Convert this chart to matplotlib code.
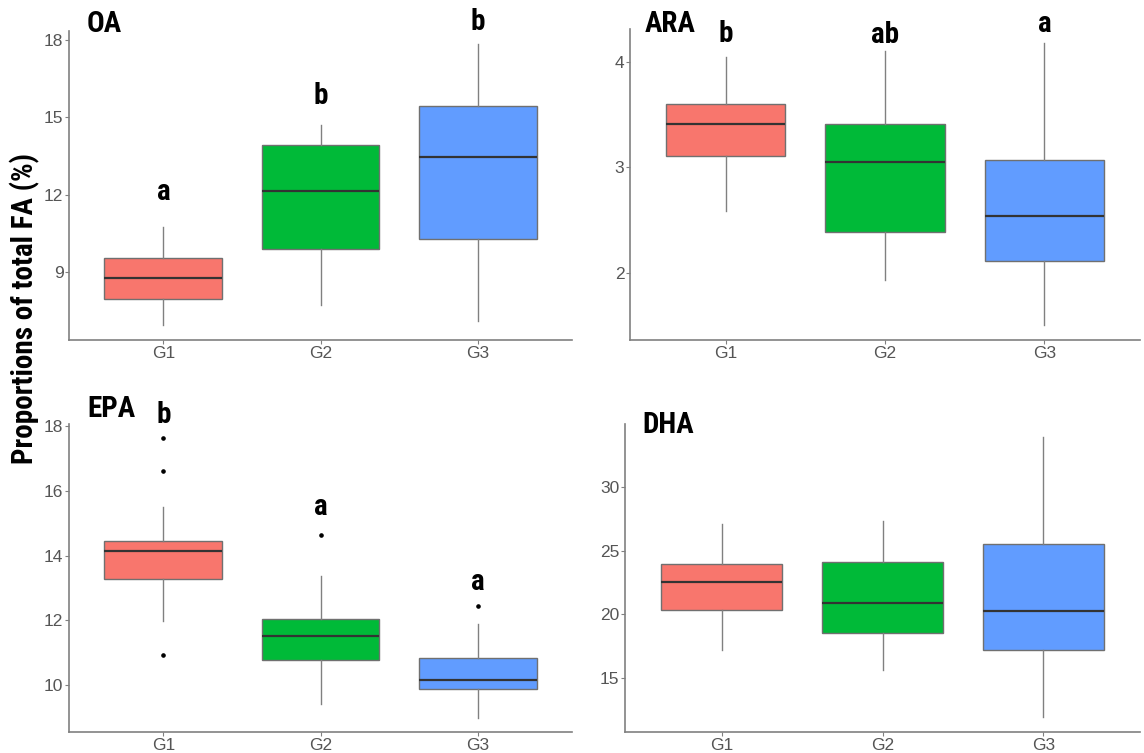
import numpy as np
import matplotlib.pyplot as plt

# box plots of fatty acid proportions, 4 panels
groups = ['G1', 'G2', 'G3']
colors = ['#F8766D', '#00BA38', '#619CFF']

# OA
oa_low = [6.91, 7.71, 7.09]
oa_q1 = [7.92, 9.90, 10.26]
oa_med = [8.74, 12.14, 13.48]
oa_q3 = [9.54, 13.91, 15.46]
oa_high = [10.75, 14.72, 17.84]
oa_out = [[], [], []]
oa_letters = ['a', 'b', 'b']
oa_letter_y = [12.1, 15.84, 18.7]

# ARA
ara_low = [2.58, 1.93, 1.50]
ara_q1 = [3.11, 2.38, 2.11]
ara_med = [3.41, 3.05, 2.54]
ara_q3 = [3.60, 3.41, 3.07]
ara_high = [4.04, 4.10, 4.18]
ara_out = [[], [], []]
ara_letters = ['b', 'ab', 'a']
ara_letter_y = [4.26, 4.25, 4.36]

# EPA
epa_low = [11.99, 9.42, 8.99]
epa_q1 = [13.28, 10.77, 9.88]
epa_med = [14.16, 11.52, 10.17]
epa_q3 = [14.44, 12.04, 10.84]
epa_high = [15.50, 13.37, 11.88]
epa_out = [[17.64, 16.62, 10.93], [14.64], [12.44]]
epa_letters = ['b', 'a', 'a']
epa_letter_y = [18.36, 15.52, 13.2]

# DHA
dha_low = [17.19, 15.60, 11.9]
dha_q1 = [20.31, 18.49, 17.14]
dha_med = [22.53, 20.86, 20.23]
dha_q3 = [23.98, 24.11, 25.52]
dha_high = [27.08, 27.34, 33.9]
dha_out = [[], [], []]
dha_letters = ['', '', '']
dha_letter_y = [0, 0, 0]

plt.rcParams['font.family'] = ['Liberation Sans', 'DejaVu Sans']
W, H = 1144, 753
fig = plt.figure(figsize=(W/100, H/100), dpi=100)
bold = ['Roboto Condensed', 'Roboto', 'DejaVu Sans']

def make_panel(box, title, title_xy, low, q1, med, q3, high, out, letters, letter_y, ylim, yticks):
	left, top, right, bottom = box
	ax = fig.add_axes([left/W, 1-bottom/H, (right-left)/W, (bottom-top)/H])
	stats = []
	for i in range(3):
		stats.append({'whislo': low[i], 'q1': q1[i], 'med': med[i], 'q3': q3[i],
					  'whishi': high[i], 'fliers': out[i]})
	bp = ax.bxp(stats, positions=[1, 2, 3], widths=0.75, showcaps=False, patch_artist=True,
				boxprops=dict(edgecolor='#707070', linewidth=1),
				medianprops=dict(color='#333333', linewidth=1.6),
				whiskerprops=dict(color='#808080', linewidth=1),
				flierprops=dict(marker='o', markersize=2.3, markerfacecolor='black',
								markeredgecolor='black'))
	for patch, c in zip(bp['boxes'], colors):
		patch.set_facecolor(c)
	for i in range(3):
		if letters[i]:
			ax.text(i+1, letter_y[i], letters[i], ha='center', va='center', fontsize=21,
					fontweight='bold', family=bold, clip_on=False)
	ax.set_xlim(0.4, 3.6)
	ax.set_ylim(ylim)
	ax.set_yticks(yticks)
	ax.set_xticks([1, 2, 3])
	ax.set_xticklabels(groups)
	for s in ['top', 'right']:
		ax.spines[s].set_visible(False)
	for s in ['left', 'bottom']:
		ax.spines[s].set_color('#808080')
		ax.spines[s].set_linewidth(1.2)
	ax.tick_params(labelsize=12.5, labelcolor='#555555', color='#808080', length=3, width=0.8, pad=1)
	fig.text(title_xy[0]/W, 1-title_xy[1]/H, title, fontsize=21, fontweight='bold',
			 family=bold, ha='left', va='center')
	return ax

make_panel((69, 31, 572, 340), 'OA', (87, 24), oa_low, oa_q1, oa_med, oa_q3, oa_high, oa_out,
		   oa_letters, oa_letter_y, (6.345, 18.36), [9, 12, 15, 18])
make_panel((630, 29, 1140, 340), 'ARA', (645, 24), ara_low, ara_q1, ara_med, ara_q3, ara_high, ara_out,
		   ara_letters, ara_letter_y, (1.36, 4.31), [2, 3, 4])
make_panel((69, 424, 572, 732), 'EPA', (87, 409), epa_low, epa_q1, epa_med, epa_q3, epa_high, epa_out,
		   epa_letters, epa_letter_y, (8.55, 18.07), [10, 12, 14, 16, 18])
make_panel((625, 424, 1140, 732), 'DHA', (642, 425), dha_low, dha_q1, dha_med, dha_q3, dha_high, dha_out,
		   dha_letters, dha_letter_y, (10.73, 34.95), [15, 20, 25, 30])

fig.text(25/W, 1-308/H, 'Proportions of total FA (%)', rotation=90, fontsize=21,
		 fontweight='bold', family=bold, ha='center', va='center')

plt.savefig('out.png', dpi=100)
